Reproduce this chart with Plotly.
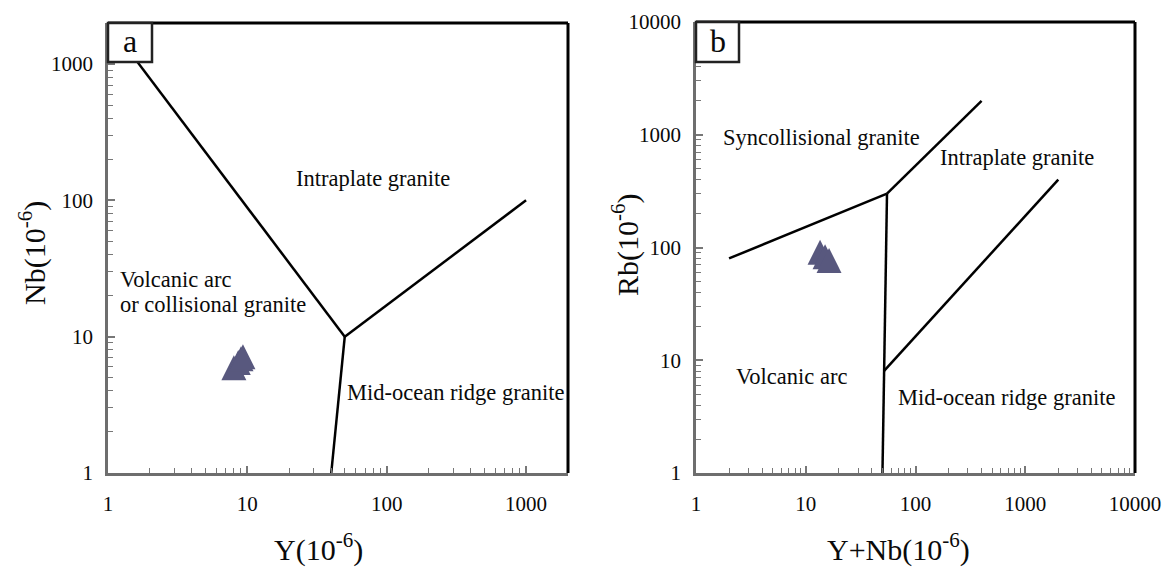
import plotly.graph_objects as go

# ---------------- data ----------------
# Panel a : Nb vs Y  (Pearce et al., 1984) boundaries
a_b1_y = [1, 50];      a_b1_nb = [2000, 10]
a_b2_y = [50, 1000];   a_b2_nb = [10, 100]
a_b3_y = [50, 40];     a_b3_nb = [10, 1]
# samples (panel a)
a_sample_y = [8.0, 8.6, 9.0, 9.3]
a_sample_nb = [7.3, 8.0, 8.5, 8.8]

# Panel b : Rb vs Y+Nb boundaries
b_b1_x = [2, 55];          b_b1_rb = [80, 300]
b_b2_x = [55, 400];        b_b2_rb = [300, 2000]
b_b3_x = [55, 51.5, 50];   b_b3_rb = [300, 8, 1]
b_b4_x = [51.5, 2000];     b_b4_rb = [8, 400]
# samples (panel b)
b_sample_x = [13.5, 15.0, 16.3]
b_sample_rb = [117, 107, 99]

a_ticks = [1, 10, 100, 1000]
b_ticks = [1, 10, 100, 1000, 10000]
a_tick_text = ["1", "10", "100", "1000"]
b_tick_text = ["1", "10", "100", "1000", "10000"]

# ---------------- figure ----------------
W, H = 1170, 567
FONT = "Liberation Serif"
LINE = dict(color="black", width=2.5)
PT_COLOR = "#58587e"
TXT = "#0a0a0a"

fig = go.Figure()

for xs, ys in [(a_b1_y, a_b1_nb), (a_b2_y, a_b2_nb), (a_b3_y, a_b3_nb)]:
    fig.add_trace(go.Scatter(x=xs, y=ys, mode="lines", line=LINE,
                             xaxis="x", yaxis="y", showlegend=False, hoverinfo="skip"))
fig.add_trace(go.Scatter(x=a_sample_y, y=a_sample_nb, mode="markers",
                         marker=dict(symbol="arrow-up", size=25, color=PT_COLOR,
                                     line=dict(width=0)),
                         xaxis="x", yaxis="y", showlegend=False))

for xs, ys in [(b_b1_x, b_b1_rb), (b_b2_x, b_b2_rb), (b_b3_x, b_b3_rb), (b_b4_x, b_b4_rb)]:
    fig.add_trace(go.Scatter(x=xs, y=ys, mode="lines", line=LINE,
                             xaxis="x2", yaxis="y2", showlegend=False, hoverinfo="skip"))
fig.add_trace(go.Scatter(x=b_sample_x, y=b_sample_rb, mode="markers",
                         marker=dict(symbol="arrow-up", size=25, color=PT_COLOR,
                                     line=dict(width=0)),
                         xaxis="x2", yaxis="y2", showlegend=False))


def minor_vals(maxv):
    out = []
    k = 0
    while 10 ** k < maxv:
        for m in range(2, 10):
            v = m * 10 ** k
            if v <= maxv:
                out.append(v)
        k += 1
    return out


def ax(rng, ticks, texts, domain, anchor, is_x):
    return dict(
        type="log", range=rng, domain=domain, anchor=anchor, automargin=False,
        tickmode="array", tickvals=ticks, ticktext=texts,
        ticks="inside", ticklen=7, tickwidth=1.5, tickcolor="#777",
        minor=dict(tickmode="array", tickvals=minor_vals(10 ** rng[1]),
                   ticks="inside", ticklen=5, tickwidth=1.2, tickcolor="#777"),
        showline=True, linecolor="#6e6e6e", linewidth=2.5,
        showgrid=False, zeroline=False,
        tickfont=dict(family=FONT, size=21, color=TXT),
        ticklabelstandoff=10 if is_x else 8,
    )


ya_dom = [1 - 473 / H, 1 - 23 / H]
yb_dom = [1 - 473 / H, 1 - 22 / H]

fig.update_layout(
    width=W, height=H,
    margin=dict(l=0, r=0, t=0, b=0, autoexpand=False),
    paper_bgcolor="white", plot_bgcolor="white",
    font=dict(family=FONT, color=TXT),
    xaxis=ax([0, 3.301], a_ticks, a_tick_text, [108 / W, 568 / W], "y", True),
    yaxis=ax([0, 3.301], a_ticks, a_tick_text, ya_dom, "x", False),
    xaxis2=ax([0, 4], b_ticks, b_tick_text, [696 / W, 1135 / W], "y2", True),
    yaxis2=ax([0, 4], b_ticks, b_tick_text, yb_dom, "x2", False),
)

shapes = []
# top/right black frame lines
for xr, yr in [("x domain", "y domain"), ("x2 domain", "y2 domain")]:
    shapes.append(dict(type="line", xref=xr, yref=yr, x0=0, x1=1, y0=1, y1=1,
                       line=dict(color="black", width=3), layer="above"))
    shapes.append(dict(type="line", xref=xr, yref=yr, x0=1, x1=1, y0=0, y1=1,
                       line=dict(color="black", width=3), layer="above"))
# panel letter boxes
shapes.append(dict(type="rect", xref="paper", yref="paper",
                   x0=108 / W, x1=152 / W, y0=1 - 62 / H, y1=1 - 23 / H,
                   line=dict(color="#222", width=2.5), fillcolor="white", layer="above"))
shapes.append(dict(type="rect", xref="paper", yref="paper",
                   x0=696 / W, x1=739 / W, y0=1 - 62 / H, y1=1 - 22 / H,
                   line=dict(color="#222", width=2.5), fillcolor="white", layer="above"))
fig.update_layout(shapes=shapes)

RFONT = dict(family=FONT, size=22.5, color=TXT)
ann = [
    # panel a regions (log10 coords)
    dict(x=1.905, y=2.157, xref="x", yref="y", text="Intraplate granite"),
    dict(x=0.072, y=1.423, xref="x", yref="y", text="Volcanic arc", xanchor="left"),
    dict(x=0.072, y=1.233, xref="x", yref="y", text="or collisional granite", xanchor="left"),
    dict(x=2.497, y=0.594, xref="x", yref="y", text="Mid-ocean ridge granite"),
    # panel b regions
    dict(x=1.144, y=2.980, xref="x2", yref="y2", text="Syncollisional granite"),
    dict(x=2.929, y=2.794, xref="x2", yref="y2", text="Intraplate granite"),
    dict(x=0.870, y=0.860, xref="x2", yref="y2", text="Volcanic arc"),
    dict(x=2.829, y=0.674, xref="x2", yref="y2", text="Mid-ocean ridge granite"),
]
for a in ann:
    a.setdefault("xanchor", "center")
    a.update(showarrow=False, yanchor="middle", font=RFONT)

TFONT = dict(family=FONT, size=30, color=TXT)
titles = [
    dict(x=318 / W, y=1 - 547 / H, text="Y(10<sup>-6</sup>)", textangle=0),
    dict(x=898 / W, y=1 - 547 / H, text="Y+Nb(10<sup>-6</sup>)", textangle=0),
    dict(x=33 / W, y=1 - 253 / H, text="Nb(10<sup>-6</sup>)", textangle=-90),
    dict(x=626 / W, y=1 - 245 / H, text="Rb(10<sup>-6</sup>)", textangle=-90),
]
for t in titles:
    t.update(xref="paper", yref="paper", showarrow=False, xanchor="center",
             yanchor="middle", font=TFONT)

letters = [
    dict(x=130 / W, y=1 - 41 / H, text="a"),
    dict(x=717.5 / W, y=1 - 41 / H, text="b"),
]
for t in letters:
    t.update(xref="paper", yref="paper", showarrow=False, xanchor="center",
             yanchor="middle", font=dict(family=FONT, size=32, color=TXT))

fig.update_layout(annotations=ann + titles + letters)

fig.write_html("out.html", config={"displayModeBar": False})
